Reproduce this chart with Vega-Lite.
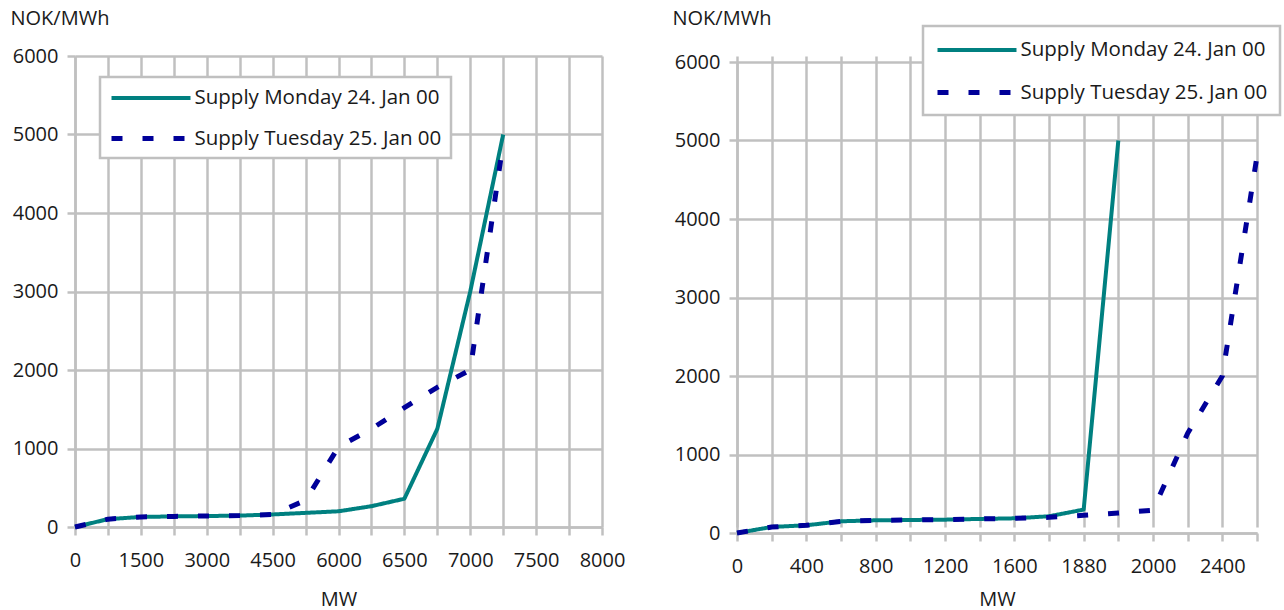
{
  "$schema": "https://vega.github.io/schema/vega-lite/v6.json",
  "background": "white",
  "padding": {"left": 10, "top": 8, "right": 0, "bottom": 0},
  "config": {
    "font": "Open Sans",
    "view": {"stroke": null},
    "axis": {
      "labelFont": "Open Sans", "labelFontSize": 20, "labelColor": "#1a1a1a",
      "titleFont": "Open Sans", "titleFontSize": 20, "titleFontWeight": "normal", "titleColor": "#1a1a1a",
      "gridColor": "#c0c0c0", "gridWidth": 2.5, "gridOpacity": 1,
      "domainColor": "#c0c0c0", "domainWidth": 2.5,
      "tickColor": "#c0c0c0", "tickWidth": 2.5, "tickSize": 8
    },
    "legend": {
      "labelFont": "Open Sans", "labelFontSize": 20.5, "labelColor": "#1a1a1a",
      "strokeColor": "#c0c0c0", "fillColor": "white", "strokeWidth": 2.5,
      "symbolType": "M-3.95,0H3.95", "symbolSize": 400, "symbolStrokeWidth": 4.5,
      "symbolOffset": 29.5, "labelOffset": 31, "labelLimit": 400, "title": null
    }
  },
  "datasets": {
    "left": [
      {"MW": 0, "series": "Supply Monday 24. Jan 00", "price": 0},
      {"MW": 750, "series": "Supply Monday 24. Jan 00", "price": 100},
      {"MW": 1500, "series": "Supply Monday 24. Jan 00", "price": 128},
      {"MW": 2250, "series": "Supply Monday 24. Jan 00", "price": 135},
      {"MW": 3000, "series": "Supply Monday 24. Jan 00", "price": 140},
      {"MW": 3750, "series": "Supply Monday 24. Jan 00", "price": 145},
      {"MW": 4500, "series": "Supply Monday 24. Jan 00", "price": 160},
      {"MW": 5250, "series": "Supply Monday 24. Jan 00", "price": 180},
      {"MW": 6000, "series": "Supply Monday 24. Jan 00", "price": 200},
      {"MW": 6250, "series": "Supply Monday 24. Jan 00", "price": 265},
      {"MW": 6500, "series": "Supply Monday 24. Jan 00", "price": 360},
      {"MW": 6750, "series": "Supply Monday 24. Jan 00", "price": 1250},
      {"MW": 7000, "series": "Supply Monday 24. Jan 00", "price": 3000},
      {"MW": 7250, "series": "Supply Monday 24. Jan 00", "price": 5000},
      {"MW": 0, "series": "Supply Tuesday 25. Jan 00", "price": 0},
      {"MW": 750, "series": "Supply Tuesday 25. Jan 00", "price": 100},
      {"MW": 1500, "series": "Supply Tuesday 25. Jan 00", "price": 128},
      {"MW": 2250, "series": "Supply Tuesday 25. Jan 00", "price": 135},
      {"MW": 3000, "series": "Supply Tuesday 25. Jan 00", "price": 140},
      {"MW": 3750, "series": "Supply Tuesday 25. Jan 00", "price": 145},
      {"MW": 4500, "series": "Supply Tuesday 25. Jan 00", "price": 160},
      {"MW": 5250, "series": "Supply Tuesday 25. Jan 00", "price": 340},
      {"MW": 6000, "series": "Supply Tuesday 25. Jan 00", "price": 1020},
      {"MW": 6250, "series": "Supply Tuesday 25. Jan 00", "price": 1250},
      {"MW": 6500, "series": "Supply Tuesday 25. Jan 00", "price": 1520},
      {"MW": 6750, "series": "Supply Tuesday 25. Jan 00", "price": 1780},
      {"MW": 7000, "series": "Supply Tuesday 25. Jan 00", "price": 2000},
      {"MW": 7250, "series": "Supply Tuesday 25. Jan 00", "price": 4900}
    ],
    "right": [
      {"MW": 0, "series": "Supply Monday 24. Jan 00", "price": 0},
      {"MW": 200, "series": "Supply Monday 24. Jan 00", "price": 77},
      {"MW": 400, "series": "Supply Monday 24. Jan 00", "price": 98},
      {"MW": 600, "series": "Supply Monday 24. Jan 00", "price": 149},
      {"MW": 800, "series": "Supply Monday 24. Jan 00", "price": 162},
      {"MW": 1000, "series": "Supply Monday 24. Jan 00", "price": 166},
      {"MW": 1200, "series": "Supply Monday 24. Jan 00", "price": 170},
      {"MW": 1400, "series": "Supply Monday 24. Jan 00", "price": 179},
      {"MW": 1600, "series": "Supply Monday 24. Jan 00", "price": 187},
      {"MW": 1740, "series": "Supply Monday 24. Jan 00", "price": 213},
      {"MW": 1880, "series": "Supply Monday 24. Jan 00", "price": 298},
      {"MW": 1940, "series": "Supply Monday 24. Jan 00", "price": 5000},
      {"MW": 0, "series": "Supply Tuesday 25. Jan 00", "price": 0},
      {"MW": 200, "series": "Supply Tuesday 25. Jan 00", "price": 77},
      {"MW": 400, "series": "Supply Tuesday 25. Jan 00", "price": 98},
      {"MW": 600, "series": "Supply Tuesday 25. Jan 00", "price": 149},
      {"MW": 800, "series": "Supply Tuesday 25. Jan 00", "price": 162},
      {"MW": 1000, "series": "Supply Tuesday 25. Jan 00", "price": 166},
      {"MW": 1200, "series": "Supply Tuesday 25. Jan 00", "price": 170},
      {"MW": 1400, "series": "Supply Tuesday 25. Jan 00", "price": 179},
      {"MW": 1600, "series": "Supply Tuesday 25. Jan 00", "price": 187},
      {"MW": 1740, "series": "Supply Tuesday 25. Jan 00", "price": 200},
      {"MW": 1880, "series": "Supply Tuesday 25. Jan 00", "price": 225},
      {"MW": 1940, "series": "Supply Tuesday 25. Jan 00", "price": 255},
      {"MW": 2000, "series": "Supply Tuesday 25. Jan 00", "price": 290},
      {"MW": 2200, "series": "Supply Tuesday 25. Jan 00", "price": 1270},
      {"MW": 2400, "series": "Supply Tuesday 25. Jan 00", "price": 2000},
      {"MW": 2600, "series": "Supply Tuesday 25. Jan 00", "price": 4800}
    ]
  },
  "spacing": 47,
  "hconcat": [
    {
      "width": 527,
      "height": 471,
      "data": {"name": "left"},
      "mark": {"type": "line", "strokeCap": "butt", "strokeJoin": "round"},
      "encoding": {
        "x": {
          "field": "MW", "type": "ordinal", "sort": null,
          "scale": {"type": "point", "padding": 0, "domain": [0, 750, 1500, 2250, 3000, 3750, 4500, 5250, 6000, 6250, 6500, 6750, 7000, 7250, 7500, 7750, 8000]},
          "axis": {"title": "MW", "labelAngle": 0, "grid": true, "labelPadding": 15, "titlePadding": 19,
                   "labelExpr": "indexof([0,1500,3000,4500,6000,6500,7000,7500,8000], datum.value) >= 0 ? datum.label : ''"}
        },
        "y": {
          "field": "price", "type": "quantitative",
          "scale": {"domain": [0, 6000], "nice": false},
          "axis": {"values": [0, 1000, 2000, 3000, 4000, 5000, 6000], "format": "d", "title": "NOK/MWh", "titleAngle": 0, "titleAlign": "left", "titleBaseline": "middle", "titleX": -65, "titleY": -38, "labelPadding": 9}
        },
        "color": {
          "field": "series", "type": "nominal",
          "scale": {"domain": ["Supply Monday 24. Jan 00", "Supply Tuesday 25. Jan 00"], "range": ["#008080", "#000099"]},
          "legend": {"orient": "none", "legendX": 25, "legendY": 21, "padding": 9, "rowPadding": 17}
        },
        "strokeDash": {
          "field": "series", "type": "nominal",
          "scale": {"domain": ["Supply Monday 24. Jan 00", "Supply Tuesday 25. Jan 00"], "range": [[1, 0], [11, 20]]},
          "legend": {"orient": "none", "legendX": 25, "legendY": 21, "padding": 9, "rowPadding": 17}
        },
        "strokeWidth": {
          "field": "series", "type": "nominal",
          "scale": {"domain": ["Supply Monday 24. Jan 00", "Supply Tuesday 25. Jan 00"], "range": [4, 5]},
          "legend": null
        }
      }
    },
    {
      "width": 520,
      "height": 477,
      "data": {"name": "right"},
      "mark": {"type": "line", "strokeCap": "butt", "strokeJoin": "round"},
      "encoding": {
        "x": {
          "field": "MW", "type": "ordinal", "sort": null,
          "scale": {"type": "point", "padding": 0, "domain": [0, 200, 400, 600, 800, 1000, 1200, 1400, 1600, 1740, 1880, 1940, 2000, 2200, 2400, 2600]},
          "axis": {"title": "MW", "labelAngle": 0, "grid": true, "labelPadding": 15, "titlePadding": 13,
                   "labelExpr": "indexof([0,400,800,1200,1600,1880,2000,2400], datum.value) >= 0 ? datum.label : ''"}
        },
        "y": {
          "field": "price", "type": "quantitative",
          "scale": {"domain": [0, 6000], "nice": false, "range": [477, 6]},
          "axis": {"values": [0, 1000, 2000, 3000, 4000, 5000, 6000], "format": "d", "title": "NOK/MWh", "titleAngle": 0, "titleAlign": "left", "titleBaseline": "middle", "titleX": -65, "titleY": -38, "labelPadding": 9}
        },
        "color": {
          "field": "series", "type": "nominal",
          "scale": {"domain": ["Supply Monday 24. Jan 00", "Supply Tuesday 25. Jan 00"], "range": ["#008080", "#000099"]},
          "legend": {"orient": "none", "legendX": 186, "legendY": -30, "padding": 12, "rowPadding": 19}
        },
        "strokeDash": {
          "field": "series", "type": "nominal",
          "scale": {"domain": ["Supply Monday 24. Jan 00", "Supply Tuesday 25. Jan 00"], "range": [[1, 0], [11, 20]]},
          "legend": {"orient": "none", "legendX": 186, "legendY": -30, "padding": 12, "rowPadding": 19}
        },
        "strokeWidth": {
          "field": "series", "type": "nominal",
          "scale": {"domain": ["Supply Monday 24. Jan 00", "Supply Tuesday 25. Jan 00"], "range": [4, 5]},
          "legend": null
        }
      }
    }
  ],
  "resolve": {
    "scale": {"color": "independent", "strokeDash": "independent", "strokeWidth": "independent", "x": "independent", "y": "independent"},
    "legend": {"color": "independent", "strokeDash": "independent"}
  }
}
